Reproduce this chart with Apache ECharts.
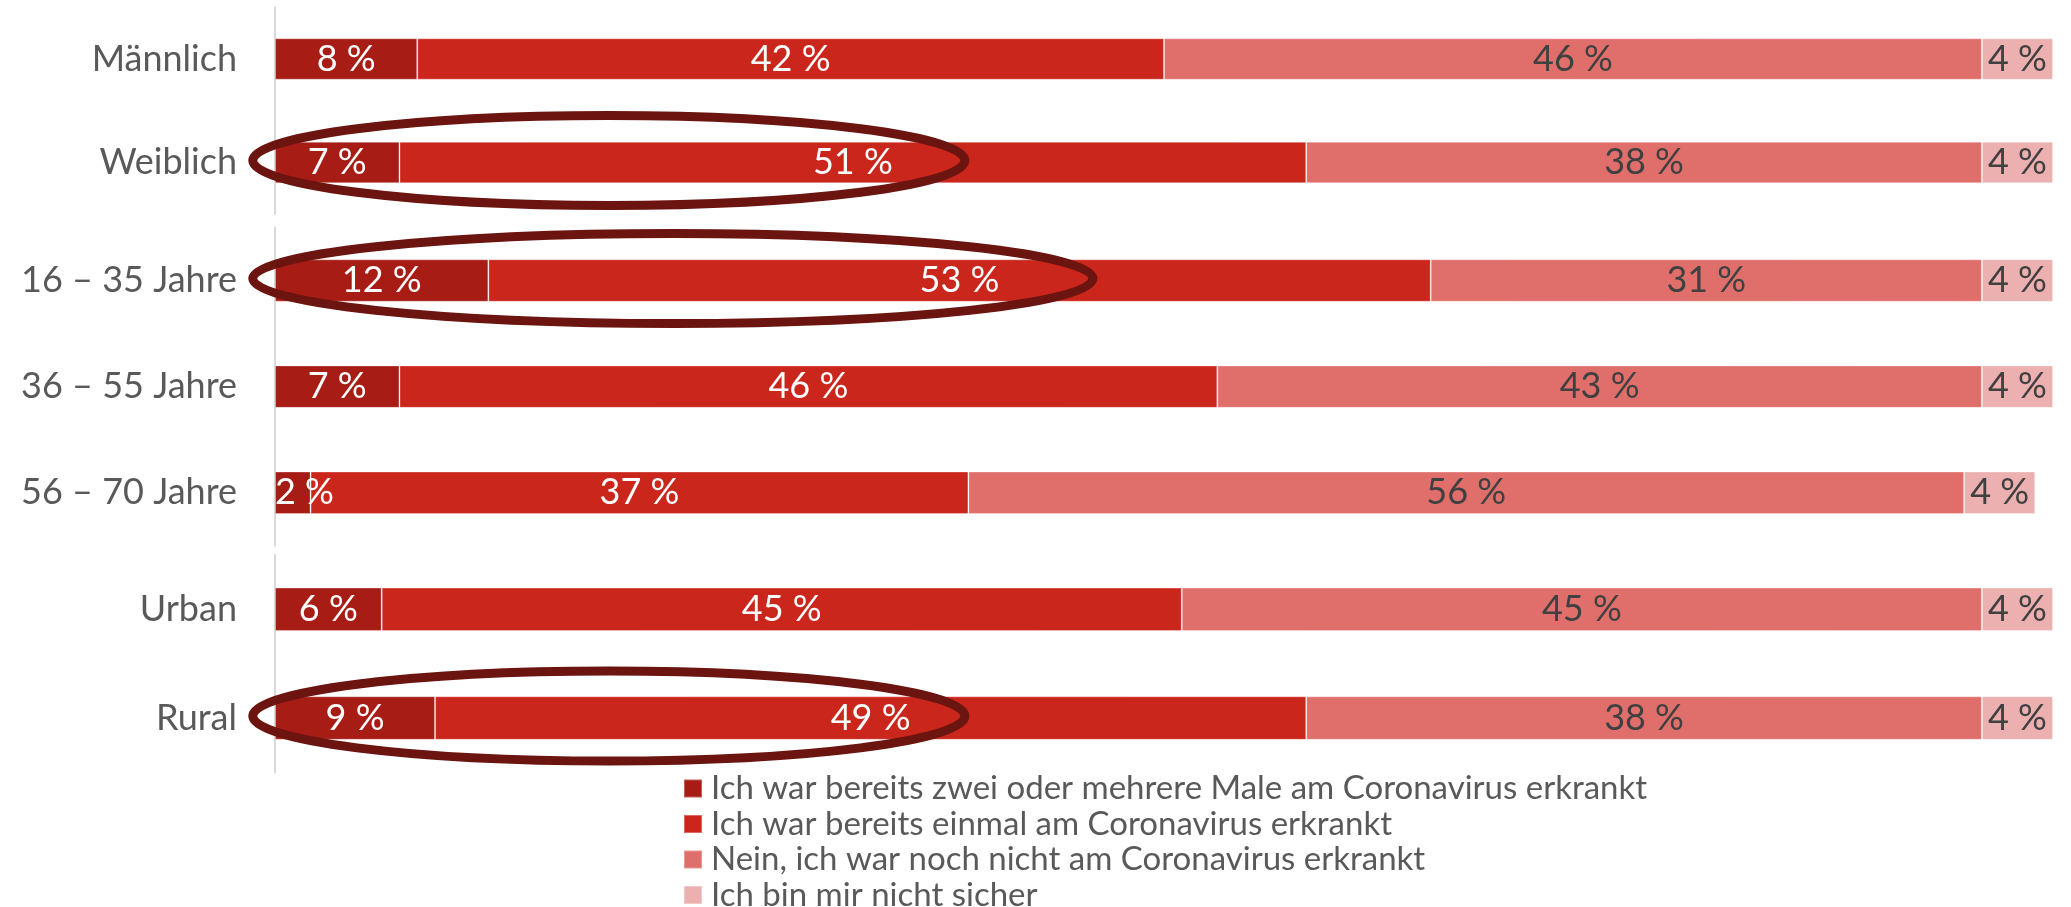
<!DOCTYPE html>
<html lang="de">
<head>
<meta charset="utf-8">
<title>Coronavirus-Erkrankungen nach Gruppen</title>
<script src="https://cdn.jsdelivr.net/npm/echarts@6/dist/echarts.min.js"></script>
<style>
  html, body { margin: 0; padding: 0; background: #ffffff; }
  #chart { width: 2071px; height: 907px; }
</style>
</head>
<body>
<div id="chart"></div>
<script>
// Rows of the chart, split into three blocks (gender, age, region)
const genderCategories = ['Männlich', 'Weiblich'];
const ageCategories = ['16 – 35 Jahre', '36 – 55 Jahre', '56 – 70 Jahre'];
const regionCategories = ['Urban', 'Rural'];

const seriesNames = [
  'Ich war bereits zwei oder mehrere Male am Coronavirus erkrankt',
  'Ich war bereits einmal am Coronavirus erkrankt',
  'Nein, ich war noch nicht am Coronavirus erkrankt',
  'Ich bin mir nicht sicher'
];

// Shares in percent, one value per row (Männlich … Rural)
const mehrmals  = [8, 7, 12, 7, 2, 6, 9];
const einmal    = [42, 51, 53, 46, 37, 45, 49];
const nochNicht = [46, 38, 31, 43, 56, 45, 38];
const unsicher  = [4, 4, 4, 4, 4, 4, 4];

// Rows circled for emphasis, with the right end of the ring on the percent axis
const circledRows = ['Weiblich', '16 – 35 Jahre', 'Rural'];
const circleEnds = [38.8, 46, 38.8];

const palette = ['#A71C14', '#CA261C', '#E06F6B', '#EBB0AF'];
const labelColors = ['#ffffff', '#ffffff', '#404040', '#404040'];
const FONT = 'Lato, "Open Sans", sans-serif';

const blocks = [genderCategories, ageCategories, regionCategories];
const seriesValues = [mehrmals, einmal, nochNicht, unsicher];

// Vertical placement of the three blocks
const gridBoxes = [
  { top: 7.25, height: 207 },
  { top: 227.5, height: 318.3 },
  { top: 555, height: 217.4 }
];

const grids = [], xAxes = [], yAxes = [], series = [];
let offset = 0;
blocks.forEach((cats, gi) => {
  grids.push({ left: 275, right: 18, top: gridBoxes[gi].top, height: gridBoxes[gi].height });
  xAxes.push({ type: 'value', gridIndex: gi, min: 0, max: 100, show: false });
  yAxes.push({
    type: 'category', gridIndex: gi, data: cats, inverse: true,
    axisTick: { show: false },
    axisLine: { show: true, lineStyle: { color: '#d9d9d9', width: 2 } },
    axisLabel: { color: '#595959', fontFamily: FONT, fontSize: 36, margin: 38 }
  });
  seriesValues.forEach((vals, si) => {
    const slice = vals.slice(offset, offset + cats.length);
    series.push({
      name: seriesNames[si],
      type: 'bar',
      stack: 'total' + gi,
      xAxisIndex: gi,
      yAxisIndex: gi,
      barWidth: '40%',
      itemStyle: { color: palette[si], borderColor: 'rgba(255,255,255,0.3)', borderWidth: 1 },
      label: {
        show: true,
        position: 'inside',
        color: labelColors[si],
        fontFamily: FONT,
        fontSize: 36,
        formatter: p => p.value + ' %'
      },
      data: slice.map(v => v < 4
        ? { value: v, label: { position: 'insideLeft', distance: 0 } }
        : v)
    });
  });
  offset += cats.length;
});

// One legend entry per line, stacked below the bars
const legends = seriesNames.map((name, i) => ({
  data: [name],
  orient: 'vertical',
  left: 683,
  top: 772 + i * 35.5,
  padding: 0,
  icon: 'rect',
  itemWidth: 18,
  itemHeight: 18,
  selectedMode: false,
  textStyle: { color: '#595959', fontFamily: FONT, fontSize: 33, lineHeight: 18, padding: [0, 0, 0, 4] }
}));

const chart = echarts.init(document.getElementById('chart'), null, { renderer: 'canvas' });
chart.setOption({
  animation: false,
  backgroundColor: '#ffffff',
  grid: grids,
  xAxis: xAxes,
  yAxis: yAxes,
  legend: legends,
  series: series
});

// Rings around the highlighted rows, placed through the axes
const rings = circledRows.map((cat, i) => {
  const gi = blocks.findIndex(b => b.includes(cat));
  const left = chart.convertToPixel({ gridIndex: gi }, [-1.25, cat]);
  const right = chart.convertToPixel({ gridIndex: gi }, [circleEnds[i], cat]);
  return {
    type: 'ellipse',
    z: 100,
    silent: true,
    shape: {
      cx: (left[0] + right[0]) / 2,
      cy: left[1] - 2,
      rx: (right[0] - left[0]) / 2,
      ry: 45
    },
    style: { fill: 'none', stroke: '#6B1410', lineWidth: 9 }
  };
});
chart.setOption({ graphic: rings });
</script>
</body>
</html>
